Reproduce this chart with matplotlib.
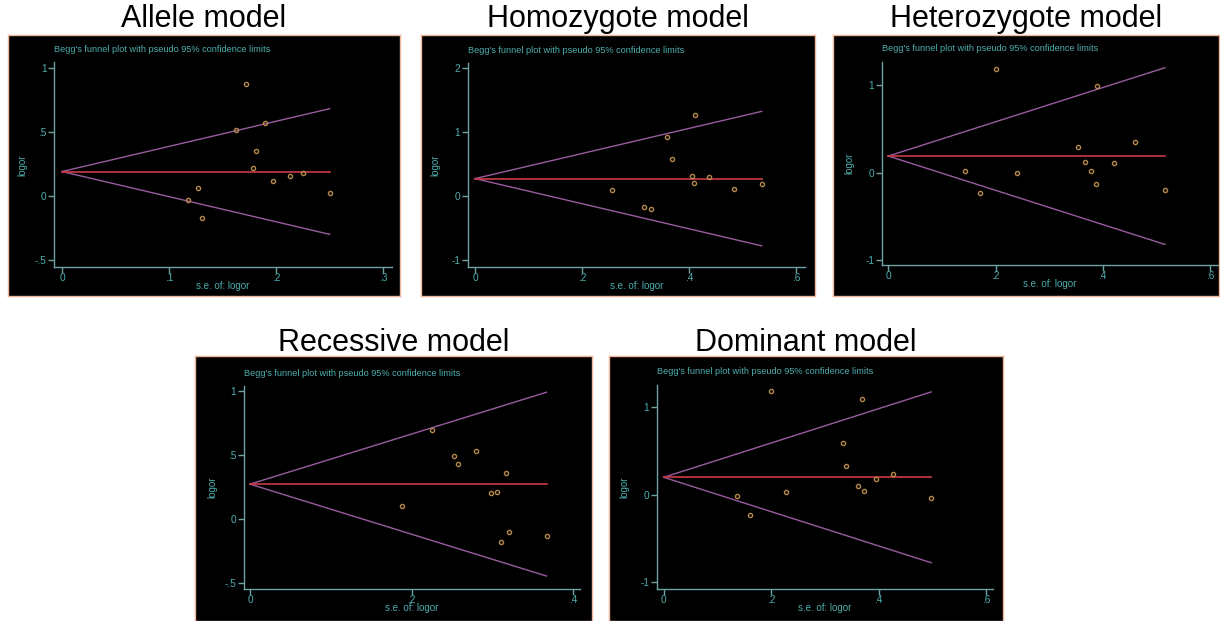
import matplotlib
matplotlib.use('Agg')
import matplotlib.pyplot as plt
import numpy as np

titles = ["Allele model", "Homozygote model", "Heterozygote model",
          "Recessive model", "Dominant model"]

allele_theta = 0.19
allele_se = [0.172, 0.163, 0.190, 0.181, 0.178, 0.197, 0.213, 0.2255, 0.250, 0.127, 0.1175, 0.131]
allele_logor = [0.873, 0.516, 0.565, 0.354, 0.219, 0.120, 0.159, 0.180, 0.023, 0.0625, -0.029, -0.169]

homo_theta = 0.27
homo_se = [0.410, 0.359, 0.367, 0.405, 0.409, 0.437, 0.483, 0.535, 0.256, 0.315, 0.328]
homo_logor = [1.255, 0.920, 0.573, 0.313, 0.208, 0.290, 0.104, 0.188, 0.094, -0.177, -0.203]

hetero_theta = 0.19
hetero_se = [0.200, 0.389, 0.353, 0.461, 0.366, 0.421, 0.379, 0.387, 0.516, 0.144, 0.171, 0.241]
hetero_logor = [1.190, 0.990, 0.298, 0.355, 0.118, 0.107, 0.023, -0.126, -0.195, 0.023, -0.233, 0.000]

reces_theta = 0.271
reces_se = [0.225, 0.253, 0.257, 0.280, 0.317, 0.298, 0.306, 0.188, 0.320, 0.311, 0.367]
reces_logor = [0.693, 0.495, 0.430, 0.534, 0.357, 0.198, 0.211, 0.099, -0.107, -0.185, -0.133]

domin_theta = 0.20
domin_se = [0.200, 0.370, 0.334, 0.339, 0.427, 0.395, 0.361, 0.372, 0.498, 0.137, 0.228, 0.161]
domin_logor = [1.185, 1.097, 0.594, 0.331, 0.236, 0.183, 0.095, 0.042, -0.034, -0.008, 0.030, -0.232]

xticks_1 = [0, 0.1, 0.2, 0.3]
xticks_6 = [0, 0.2, 0.4, 0.6]
xticks_4 = [0, 0.2, 0.4]
yticks_half = [-0.5, 0, 0.5, 1]
yticks_homo = [-1, 0, 1, 2]
yticks_one = [-1, 0, 1]

subtitle = "Begg's funnel plot with pseudo 95% confidence limits"
xlab = "s.e. of: logor"
ylab = "logor"

# ---- couleurs ----
TEAL = '#4eaeae'
AXC = '#6fa3a3'
RED = '#cc3a44'
PURPLE = '#9a5c9e'
DOT = '#b48848'
BORDER = '#f0b49a'

W, H = 1220, 621
plt.rcParams['font.family'] = ['Liberation Sans', 'DejaVu Sans']

fig = plt.figure(figsize=(W / 100, H / 100), dpi=100)
fig.patch.set_facecolor('white')


def fx(x):
    return x / W


def fy(y):
    return 1 - y / H


def box(l, t, r, b):
    return [fx(l), fy(b), (r - l) / W, (b - t) / H]


def stata_fmt(v):
    # format Stata : 0.5 -> .5
    s = '%g' % v
    s = s.replace('0.', '.')
    return s


def panel(frame, inner, title, title_y, se, logor, theta, xlim, ylim, xticks, yticks):
    # fond noir du panneau
    bg = fig.add_axes(box(*frame))
    bg.set_facecolor('black')
    bg.set_xticks([])
    bg.set_yticks([])
    for sp in bg.spines.values():
        sp.set_color(BORDER)
        sp.set_linewidth(1.0)

    l, t, r, b = inner
    fig.text(fx((frame[0] + frame[2]) / 2), fy(title_y), title, ha='center', va='center',
             fontsize=22, color='black')

    ax = fig.add_axes(box(l, t, r, b))
    ax.set_facecolor('none')
    ax.set_xlim(*xlim)
    ax.set_ylim(*ylim)

    se = np.array(se)
    smax = se.max()
    ax.plot([0, smax], [theta, theta + 1.96 * smax], color=PURPLE, lw=1.0)
    ax.plot([0, smax], [theta, theta - 1.96 * smax], color=PURPLE, lw=1.0)
    ax.plot([0, smax], [theta, theta], color=RED, lw=1.2)
    ax.plot(se, logor, 'o', mfc='none', mec=DOT, ms=3.0, mew=1.0)

    ax.spines['top'].set_visible(False)
    ax.spines['right'].set_visible(False)
    for k in ['left', 'bottom']:
        ax.spines[k].set_color(AXC)
        ax.spines[k].set_linewidth(1.0)
    ax.set_xticks(xticks)
    ax.set_xticklabels([stata_fmt(v) for v in xticks])
    ax.set_yticks(yticks)
    ax.set_yticklabels([stata_fmt(v) for v in yticks])
    ax.tick_params(colors=AXC, labelcolor=TEAL, labelsize=7.3, length=4, width=1, pad=1.5)
    ax.tick_params(axis='x', pad=0)

    fig.text(fx(l), fy(t - 13), subtitle, ha='left', va='center', fontsize=6.6, color=TEAL)
    fig.text(fx((l + r) / 2), fy(b + 19), xlab, ha='center', va='center', fontsize=7, color=TEAL)
    fig.text(fx(l - 32), fy((t + b) / 2), ylab, ha='center', va='center', rotation=90,
             fontsize=7, color=TEAL)
    return ax


panel((8, 35, 400, 296), (54.3, 62.3, 391.7, 267.3), titles[0], 19,
      allele_se, allele_logor, allele_theta, (-0.0072, 0.308), (-0.557, 1.042),
      xticks_1, yticks_half)
panel((421, 35, 815, 296), (467.7, 63.3, 805, 267.3), titles[1], 19,
      homo_se, homo_logor, homo_theta, (-0.0136, 0.616), (-1.114, 2.069),
      xticks_6, yticks_homo)
panel((833, 35, 1219, 296), (881.7, 61.7, 1218, 265), titles[2], 19,
      hetero_se, hetero_logor, hetero_theta, (-0.0123, 0.615), (-1.057, 1.27),
      xticks_6, yticks_one)
panel((195, 356, 592, 621), (244, 386, 580, 589.3), titles[3], 343,
      reces_se, reces_logor, reces_theta, (-0.0074, 0.4084), (-0.552, 1.039),
      xticks_4, yticks_half)
panel((609, 356, 1003, 621), (656.7, 385, 993, 589.3), titles[4], 343,
      domin_se, domin_logor, domin_theta, (-0.013, 0.613), (-1.08, 1.255),
      xticks_6, yticks_one)

fig.savefig('out.png', dpi=100, facecolor='white')
